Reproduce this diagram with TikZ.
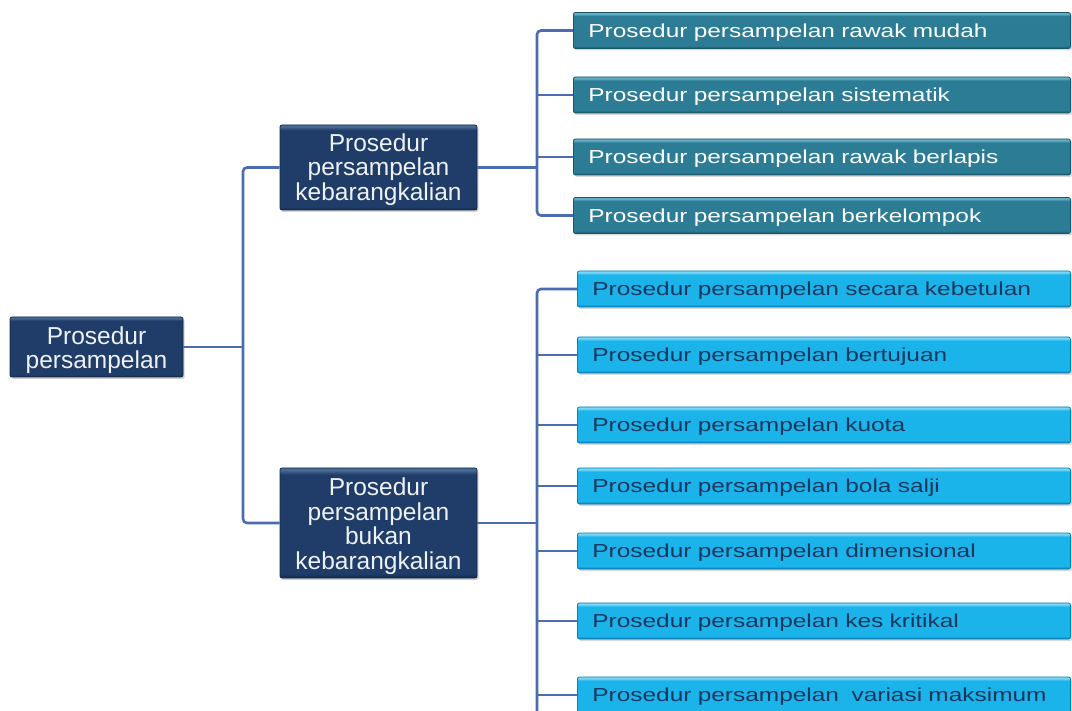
\documentclass[tikz,border=0pt]{standalone}
\usepackage{fontspec}
\setmainfont{Liberation Sans}
\newfontfamily\widefont[FakeStretch=1.3]{Liberation Sans}
\usetikzlibrary{shadows}
\definecolor{navymn}{HTML}{1F3D68}
\definecolor{navylt}{HTML}{4A6A96}
\definecolor{navydk}{HTML}{132A4C}
\definecolor{tealmn}{HTML}{2C7C95}
\definecolor{teallt}{HTML}{62AEC4}
\definecolor{tealdk}{HTML}{1A5669}
\definecolor{cyanmn}{HTML}{1AB4EB}
\definecolor{cyanlt}{HTML}{7AD8F8}
\definecolor{cyandk}{HTML}{0B7CB2}
\definecolor{linec}{HTML}{4B6DAF}
\definecolor{cyantext}{HTML}{17375E}
\definecolor{lighttext}{HTML}{EEF2F6}
\pgfdeclareverticalshading{navysh}{100bp}{color(0bp)=(navydk); color(25bp)=(navydk); color(27bp)=(navymn); color(72bp)=(navymn); color(74bp)=(navylt); color(100bp)=(navylt)}
\pgfdeclareverticalshading{tealsh}{100bp}{color(0bp)=(tealdk); color(25bp)=(tealdk); color(29bp)=(tealmn); color(70bp)=(tealmn); color(73bp)=(teallt); color(100bp)=(teallt)}
\pgfdeclareverticalshading{cyansh}{100bp}{color(0bp)=(cyandk); color(25bp)=(cyandk); color(29bp)=(cyanmn); color(70bp)=(cyanmn); color(73bp)=(cyanlt); color(100bp)=(cyanlt)}
\tikzset{
  conn/.style={draw=linec, line width=2.6pt},
  navybox/.style={shading=navysh, draw=navydk, line width=0.8pt, rounded corners=2pt,
    drop shadow={opacity=0.35, shadow xshift=1.5pt, shadow yshift=-2pt},
    inner sep=0pt, minimum width=197},
  navytext/.style={text=lighttext, align=center, inner sep=0pt, yshift=-3pt,
    font=\fontsize{24.5}{24.5}\selectfont},
  leafbox/.style={rounded corners=2pt, line width=0.8pt, anchor=west,
    drop shadow={opacity=0.3, shadow xshift=1.5pt, shadow yshift=-2pt},
    minimum height=36, inner xsep=15, inner ysep=0pt, align=left,
    text height=13.5pt, text depth=0pt,
    font=\widefont\fontsize{18.8}{20}\selectfont},
  tealbox/.style={leafbox, shading=tealsh, draw=tealdk, text=white, text width=467},
  cyanbox/.style={leafbox, shading=cyansh, draw=cyandk, text=cyantext, text width=463}
}
\begin{document}
\begin{tikzpicture}[x=1pt,y=-1pt]
\useasboundingbox (0,0) rectangle (1072,711);
\clip (0,0) rectangle (1072,711);
\fill[white] (0,0) rectangle (1072,711);
\coordinate (b0) at (243,0);
\coordinate (b1) at (537,0);
\coordinate (bend) at (537,720);

\node[navybox, minimum width=173, minimum height=60,
  label={[navytext]center:{Prosedur\\persampelan}}] (root) at (96.5,347) {};
\node[navybox, minimum height=85,
  label={[navytext, yshift=1pt]center:{Prosedur\\persampelan\\kebarangkalian}}] (k1) at (378.5,167.5) {};
\node[navybox, minimum height=110,
  label={[navytext]center:{Prosedur\\persampelan\\bukan\\kebarangkalian}}] (k2) at (378.5,523) {};

\node[tealbox] (t1) at (573,30.5) {Prosedur persampelan rawak mudah};
\node[tealbox] (t2) at (573,95) {Prosedur persampelan sistematik};
\node[tealbox] (t3) at (573,157) {Prosedur persampelan rawak berlapis};
\node[tealbox] (t4) at (573,215.5) {Prosedur persampelan berkelompok};

\node[cyanbox] (c1) at (577,289) {Prosedur persampelan secara kebetulan};
\node[cyanbox] (c2) at (577,355) {Prosedur persampelan bertujuan};
\node[cyanbox] (c3) at (577,425) {Prosedur persampelan kuota};
\node[cyanbox] (c4) at (577,486) {Prosedur persampelan bola salji};
\node[cyanbox] (c5) at (577,551) {Prosedur persampelan dimensional};
\node[cyanbox] (c6) at (577,621) {Prosedur persampelan kes kritikal};
\node[cyanbox] (c7) at (577,695) {Prosedur persampelan\ \ variasi maksimum};

\draw[conn] (root.east) -- (root.east -| b0);
\draw[conn, rounded corners=4pt] (k1.west) -- (k1.west -| b0) -- (k2.west -| b0) -- (k2.west);

\draw[conn] (k1.east) -- (k1.east -| b1);
\draw[conn, rounded corners=4pt] (t1.west) -- (t1.west -| b1) -- (t4.west -| b1) -- (t4.west);
\draw[conn] (t2.west) -- (t2.west -| b1);
\draw[conn] (t3.west) -- (t3.west -| b1);

\draw[conn] (k2.east) -- (k2.east -| b1);
\draw[conn, rounded corners=4pt] (c1.west) -- (c1.west -| b1) -- (bend);
\foreach \n in {c2,c3,c4,c5,c6,c7} \draw[conn] (\n.west) -- (\n.west -| b1);
\end{tikzpicture}
\end{document}
